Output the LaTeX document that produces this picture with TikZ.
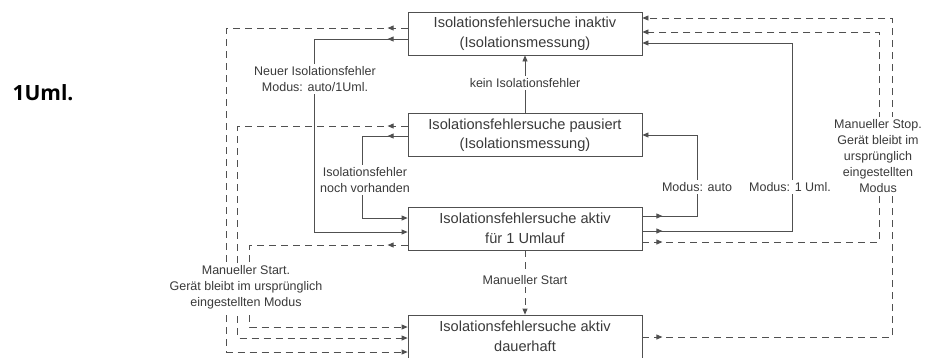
\documentclass[tikz,border=0pt]{standalone}
\usepackage{fontspec}
\setmainfont{Liberation Sans}
\newfontfamily\osfont{Open Sans}
\usetikzlibrary{arrows.meta, decorations.markings, calc}
\definecolor{linie}{HTML}{505050}
\definecolor{schrift}{HTML}{3A3A3A}

\begin{document}
\begin{tikzpicture}[x=1pt,y=-1pt,
  zst/.style={rectangle,draw=linie,line width=0.8pt,text=schrift,minimum width=234pt,minimum height=43pt,align=center,inner sep=0pt,font=\fontsize{14.6}{19.5}\selectfont},
  lbl/.style={fill=white,text=schrift,align=center,inner sep=2pt,font=\fontsize{12.5}{16}\selectfont},
  pfeil/.style={draw=linie,line width=0.8pt,-{Triangle[length=6pt,width=5pt]}},
  pfeilm/.style={pfeil,postaction={decorate},decoration={markings,mark=at position 20pt with {\arrow{Triangle[length=6pt,width=5pt]}}}},
  gestr/.style={dash pattern=on 7pt off 5pt}
]
  \useasboundingbox (0,0) rectangle (931,357);
  \node[zst] (B1) at (525,33.5)  {Isolationsfehlersuche inaktiv\\(Isolationsmessung)};
  \node[zst] (B2) at (525,135)   {Isolationsfehlersuche pausiert\\(Isolationsmessung)};
  \node[zst] (B3) at (525,228.5) {Isolationsfehlersuche aktiv\\für 1 Umlauf};
  \node[zst] (B4) at (525,336.5) {Isolationsfehlersuche aktiv\\dauerhaft};

  \draw[pfeilm]([yshift=-5.5pt]B1.west)--++(-93,0)|-([yshift=-3.5pt]B3.west);
  \draw[pfeilm]([yshift=-1pt]B2.west)--++(-45,0)|-([yshift=10.5pt]B3.west);
  \draw[pfeilm,gestr]([yshift=5.5pt]B1.west)--++(-181,0)|-([yshift=-15.5pt]B4.west);
  \draw[pfeilm,gestr]([yshift=9pt]B2.west)--++(-170,0)|-([yshift=-1.5pt]B4.west);
  \draw[pfeilm,gestr]([yshift=-16.5pt]B3.west)--++(-158,0)|-([yshift=9.5pt]B4.west);
  \draw[pfeilm]([yshift=12.5pt]B3.east)--++(55,0)|-(B2.east);
  \draw[pfeilm]([yshift=-2.5pt]B3.east)--++(150,0)|-([yshift=-9.5pt]B1.east);
  \draw[pfeilm,gestr]([yshift=-13.5pt]B3.east)--++(237,0)|-([yshift=1.5pt]B1.east);
  \draw[pfeilm,gestr]([yshift=-0.5pt]B4.east)--++(250,0)|-([yshift=15.5pt]B1.east);
  \draw[pfeil](B2.north)--(B1.south);
  \draw[pfeil,gestr](B3.south)--(B4.north);

  \node[lbl] (L1) at (315,79)  {Neuer Isolationsfehler\\Modus: auto/1Uml.};
  \node[lbl] (L2) at (365,180) {Isolationsfehler\\noch vorhanden};
  \node[lbl] (L3) at (525,83)  {kein Isolationsfehler};
  \node[lbl] (L4) at (525,280) {Manueller Start};
  \node[lbl] (L5) at (697,187) {Modus: auto};
  \node[lbl] (L6) at (790,187) {Modus: 1 Uml.};
  \node[lbl] (L7) at (878,156) {Manueller Stop.\\Gerät bleibt im\\ursprünglich\\eingestellten\\Modus};
  \node[lbl] (L8) at (246,287) {Manueller Start.\\Gerät bleibt im ursprünglich\\eingestellten Modus};
  \node[font=\osfont\bfseries\fontsize{21}{25}\selectfont,inner sep=0pt] (T1) at (43,93) {1Uml.};
\end{tikzpicture}
\end{document}
